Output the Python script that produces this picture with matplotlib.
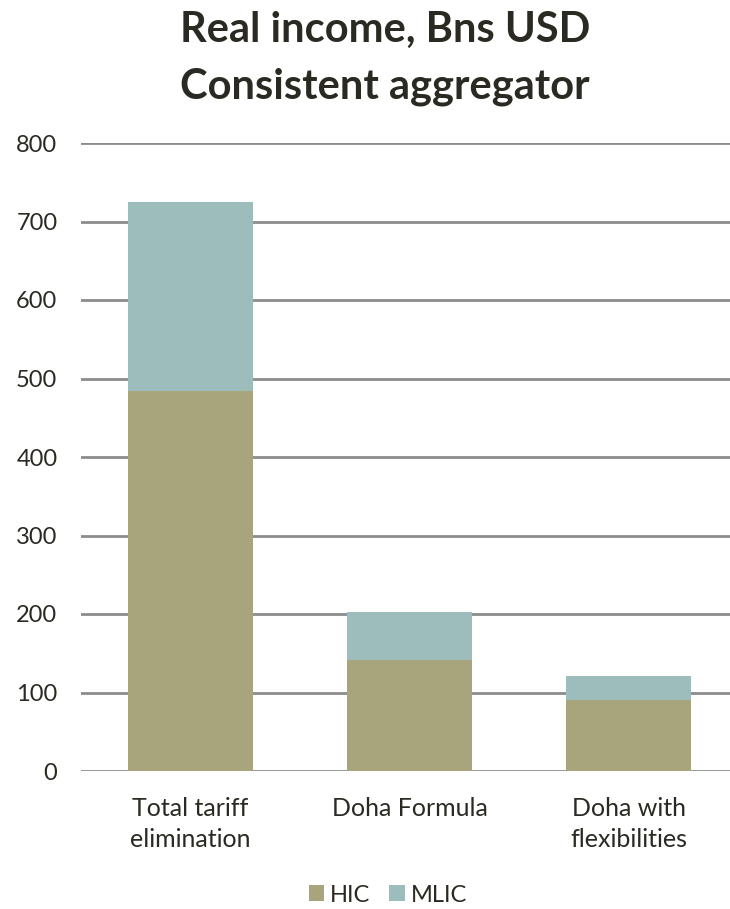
import numpy as np
import matplotlib.pyplot as plt

plt.rcParams['font.family'] = ['Lato', 'DejaVu Sans']

categories = ['Total tariff\nelimination', 'Doha Formula', 'Doha with\nflexibilities']
hic = [484, 141, 90]
mlic = [241, 61, 31]
title_lines = ['Real income, Bns USD', 'Consistent aggregator']

fig = plt.figure(figsize=(7.3, 9.09), dpi=100)
ax = fig.add_axes([81/730, 1 - 771/909, 657/730, (771 - 143)/909])

x = np.arange(len(categories))
ax.bar(x, hic, width=0.57, color='#a8a47c', label='HIC', zorder=3)
ax.bar(x, mlic, width=0.57, bottom=hic, color='#9dbdbd', label='MLIC', zorder=3)

ax.set_ylim(0, 800)
ax.set_xlim(-0.5, 2.5)
ax.set_yticks(range(0, 801, 100))
ax.set_xticks(x)
ax.set_xticklabels(categories, fontsize=18, color='#2b2a22', linespacing=1.4)
ax.tick_params(axis='y', length=0, pad=17, labelsize=17, labelcolor='#2b2a22')
ax.tick_params(axis='x', length=0, pad=19)
ax.grid(axis='y', color='#8c8c8c', linewidth=2, zorder=0)
for s in ax.spines.values():
    s.set_visible(False)

for i, line in enumerate(title_lines):
    fig.text(385/730, 1 - (42 + 56*i)/909, line, ha='center', va='baseline',
             fontsize=30, fontweight='bold', color='#2b2a22')

fig.legend(loc='center', bbox_to_anchor=(388/730, 1 - 895/909), ncol=2, frameon=False,
           fontsize=17, handlelength=0.64, handleheight=0.64, handletextpad=0.25,
           columnspacing=0.8, labelcolor='#2b2a22')

fig.savefig('out.png', dpi=100)
